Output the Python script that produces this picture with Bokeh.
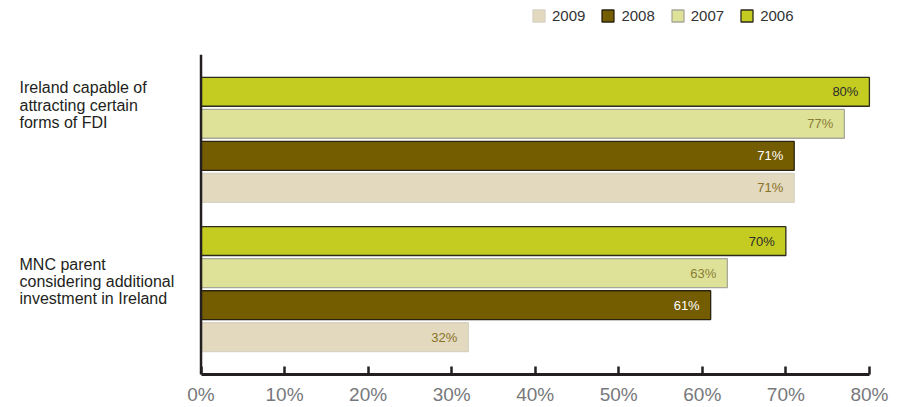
from bokeh.plotting import figure
from bokeh.layouts import column
from bokeh.models import (FactorRange, Range1d, ColumnDataSource, Span, Legend,
                          LegendItem, FixedTicker, CustomJSTickFormatter)
from bokeh.core.properties import value
from bokeh.embed import file_html
from bokeh.resources import INLINE

# ---- data ----
categories = ["Ireland capable of attracting certain forms of FDI",
              "MNC parent considering additional investment in Ireland"]
category_lines = ["Ireland capable of\nattracting certain\nforms of FDI",
                  "MNC parent\nconsidering additional\ninvestment in Ireland"]
years = ["2006", "2007", "2008", "2009"]
values_2006 = [80, 70]
values_2007 = [77, 63]
values_2008 = [71, 61]
values_2009 = [71, 32]
x_ticks = [0, 10, 20, 30, 40, 50, 60, 70, 80]
legend_order = ["2009", "2008", "2007", "2006"]

series = {"2006": values_2006, "2007": values_2007, "2008": values_2008, "2009": values_2009}
fills = {"2006": "#c4cc22", "2007": "#dee298", "2008": "#745c00", "2009": "#e2d9bf"}
outlines = {"2006": "#2b2a1c", "2007": "#a8a898", "2008": "#2a2410", "2009": "#d8d2c2"}
text_colors = {"2006": "#2b2b2b", "2007": "#8a7d34", "2008": "#ffffff", "2009": "#8a7226"}

FONT = "'Liberation Sans', Arial, sans-serif"
NARROW = "'Liberation Sans Narrow', 'Liberation Sans', sans-serif"
DARK = "#231f20"

# ---- legend strip (separate small figure above the chart) ----
W, LEG_H = 902, 54
leg = figure(width=W, height=LEG_H, output_backend="svg", toolbar_location=None,
             x_range=Range1d(0, W), y_range=Range1d(0, LEG_H),
             x_axis_location=None, y_axis_location=None,
             min_border_left=0, min_border_right=0, min_border_top=0, min_border_bottom=0)
leg.outline_line_color = None
leg.xgrid.visible = False
leg.ygrid.visible = False
leg_renderers = {}
for yr in years:
    # swatch-only renderers: hidden, only their legend glyphs are drawn
    leg_renderers[yr] = leg.hbar(y=[0], left=[0], right=[1], height=1,
                                 fill_color=fills[yr], line_color=outlines[yr], line_width=1.3,
                                 visible=False)
legend = Legend(items=[LegendItem(label=yr, renderers=[leg_renderers[yr]]) for yr in legend_order],
                location=(531, 30), orientation="horizontal",
                glyph_width=15, glyph_height=15, label_standoff=6, spacing=15,
                padding=0, margin=0, label_height=15,
                border_line_color=None, background_fill_alpha=0,
                label_text_font=FONT, label_text_font_size="15px", label_text_color="#333333")
leg.add_layout(legend)

# ---- main chart ----
factors = [(c, y) for c in reversed(categories) for y in reversed(years)]
X_START, X_END = -24, 80.25

p = figure(width=W, height=407 - LEG_H, output_backend="svg", toolbar_location=None,
           x_range=Range1d(X_START, X_END),
           y_range=FactorRange(factors=factors, group_padding=0.66,
                               range_padding=0.1536, range_padding_units="percent"),
           y_axis_location=None,
           min_border_left=0, min_border_right=31, min_border_top=0, min_border_bottom=31)
p.outline_line_color = None
p.xgrid.visible = False
p.ygrid.visible = False

for yr in years:
    src = ColumnDataSource(dict(
        y=[(c, yr) for c in categories],
        v=series[yr],
        lab=[f"{v}%" for v in series[yr]],
    ))
    p.hbar(y="y", right="v", left=0, height=0.9, source=src,
           fill_color=fills[yr], line_color=outlines[yr], line_width=1.3)
    p.text(x="v", y="y", text="lab", source=src, x_offset=-11,
           text_align="right", text_baseline="middle",
           text_font=value(FONT), text_font_size="13px", text_color=text_colors[yr])

# category labels (left side)
cat_src = ColumnDataSource(dict(
    x=[X_START, X_START],
    y=[(categories[0], "2006"), (categories[1], "2006")],
    t=category_lines,
    yo=[-12.5, 14.5],
))
p.text(x="x", y="y", text="t", source=cat_src, x_offset=19, y_offset="yo",
       text_align="left", text_baseline="top", text_line_height=1.02,
       text_font=value(FONT), text_font_size="16px", text_color=DARK)

# vertical axis line
p.add_layout(Span(location=0, dimension="height", line_color=DARK, line_width=2.5))

# x axis
ax = p.xaxis[0]
ax.bounds = (x_ticks[0], x_ticks[-1])
ax.ticker = FixedTicker(ticks=x_ticks)
ax.formatter = CustomJSTickFormatter(code="return tick + '%';")
ax.axis_line_color = DARK
ax.axis_line_width = 3
ax.major_tick_line_color = DARK
ax.major_tick_line_width = 2.5
ax.major_tick_in = 8
ax.major_tick_out = 0
ax.minor_tick_line_color = None
ax.major_label_standoff = 9
ax.major_label_text_font = NARROW
ax.major_label_text_font_size = "19px"
ax.major_label_text_color = "#77787b"

layout = column(leg, p, spacing=0)
open("out.html", "w").write(file_html(layout, INLINE))
